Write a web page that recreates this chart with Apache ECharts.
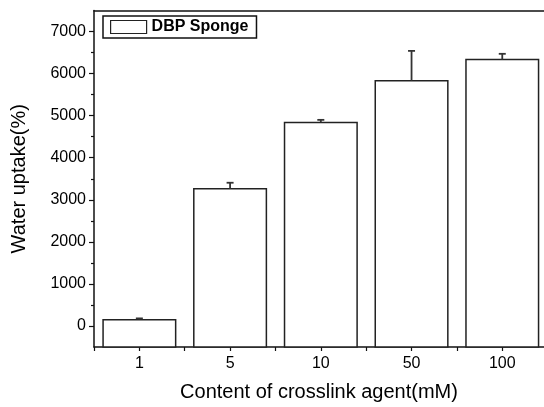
<!DOCTYPE html>
<html>
<head>
<meta charset="utf-8">
<script src="https://cdn.jsdelivr.net/npm/echarts@6/dist/echarts.min.js"></script>
<style>
html,body{margin:0;padding:0;background:#fff;}
#chart{width:544px;height:407px;}
</style>
</head>
<body>
<div id="chart"></div>
<script>
const categories = ['1', '5', '10', '50', '100'];
const uptake = [150, 3260, 4840, 5830, 6335];
const uptakeErr = [30, 145, 60, 710, 135];
const yMajorTicks = [0, 1000, 2000, 3000, 4000, 5000, 6000, 7000];
const yMinorTicks = [500, 1500, 2500, 3500, 4500, 5500, 6500];
const xLabelPos = [1, 2, 3, 4, 5];
const xTickPos = [0.5, 1, 1.5, 2, 2.5, 3, 3.5, 4, 4.5, 5];
const seriesName = 'DBP Sponge';
const yMin = -500, yMax = 7500;
const xMin = 0.5, xMax = 5.46;

const FONT = '"Liberation Sans", Arial, sans-serif';
const chart = echarts.init(document.getElementById('chart'), null, {renderer: 'canvas'});

const barData = uptake.map((v, i) => [xLabelPos[i], v, uptakeErr[i]]);

chart.setOption({
  animation: false,
  backgroundColor: '#fff',
  textStyle: {fontFamily: FONT, color: '#000'},
  grid: {
    left: 94, top: 10.5, right: 0, bottom: 58,
    containLabel: false, show: false
  },
  legend: {
    data: [{name: seriesName, icon: 'rect'}],
    left: 103, top: 16,
    padding: [3, 8, 3, 7],
    borderColor: '#111', borderWidth: 1.5,
    itemWidth: 36, itemHeight: 13,
    itemStyle: {color: '#fff', borderColor: '#222', borderWidth: 1.2},
    textStyle: {fontFamily: FONT, fontSize: 16, fontWeight: 'bold', color: '#000'}
  },
  xAxis: [{
    type: 'value',
    min: xMin, max: xMax,
    name: 'Content of crosslink agent(mM)',
    nameLocation: 'middle',
    nameGap: 35,
    nameTextStyle: {fontFamily: FONT, fontSize: 20, color: '#000'},
    axisLine: {show: true, onZero: false, lineStyle: {color: '#111', width: 1.5}},
    axisTick: {show: true, length: 4, customValues: xTickPos, lineStyle: {color: '#111', width: 1.2}},
    axisLabel: {fontFamily: FONT, fontSize: 16, color: '#000', margin: 9, customValues: xLabelPos,
      formatter: function (v) { return categories[Math.round(v) - 1]; }},
    splitLine: {show: false}
  }, {
    type: 'value',
    min: xMin, max: xMax,
    position: 'top',
    axisLine: {show: true, onZero: false, lineStyle: {color: '#111', width: 1.5}},
    axisTick: {show: false},
    axisLabel: {show: false},
    splitLine: {show: false}
  }],
  yAxis: [{
    type: 'value',
    min: yMin, max: yMax,
    name: 'Water uptake(%)',
    nameLocation: 'middle',
    nameGap: 65,
    nameTextStyle: {fontFamily: FONT, fontSize: 20, color: '#000'},
    axisLine: {show: true, onZero: false, lineStyle: {color: '#111', width: 1.5}},
    axisTick: {show: true, length: 5, customValues: yMajorTicks, lineStyle: {color: '#111', width: 1.2}},
    axisLabel: {fontFamily: FONT, fontSize: 16, color: '#000', margin: 8, customValues: yMajorTicks,
      formatter: function (v) { return String(v); }},
    splitLine: {show: false}
  }, {
    type: 'value',
    min: yMin, max: yMax,
    position: 'left',
    axisLine: {show: false, onZero: false},
    axisTick: {show: true, length: 3, customValues: yMinorTicks, lineStyle: {color: '#111', width: 1.2}},
    axisLabel: {show: false},
    splitLine: {show: false}
  }],
  series: [{
    name: seriesName,
    type: 'custom',
    data: barData,
    z: 3,
    itemStyle: {color: '#fff', borderColor: '#222', borderWidth: 1.5},
    renderItem: function (params, api) {
      const x = api.value(0);
      const v = api.value(1);
      const e = api.value(2);
      const topPt = api.coord([x, v]);
      const basePt = api.coord([x, yMin]);
      const errPt = api.coord([x, v + e]);
      const w = api.size([1, 0])[0] * 0.8;
      const half = 3.5;
      const errStyle = {stroke: '#333', lineWidth: 1.8, fill: null};
      return {
        type: 'group',
        children: [
          {type: 'rect', shape: {x: topPt[0] - w / 2, y: topPt[1], width: w, height: basePt[1] - topPt[1]},
           style: {fill: '#fff', stroke: '#222', lineWidth: 1.5}},
          {type: 'line', shape: {x1: topPt[0], y1: topPt[1], x2: errPt[0], y2: errPt[1]}, style: errStyle},
          {type: 'line', shape: {x1: errPt[0] - half, y1: errPt[1], x2: errPt[0] + half, y2: errPt[1]}, style: errStyle}
        ]
      };
    }
  }]
});
</script>
</body>
</html>
